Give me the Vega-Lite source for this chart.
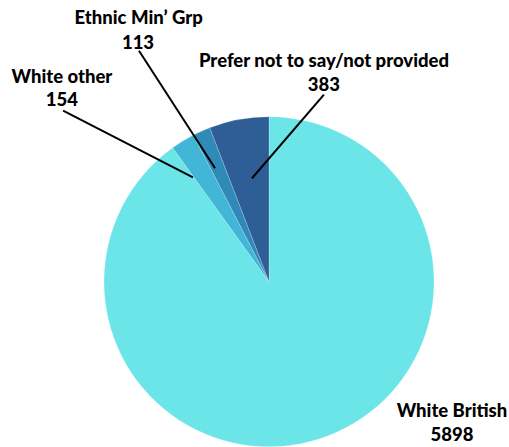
{
  "$schema": "https://vega.github.io/schema/vega-lite/v6.json",
  "width": 509,
  "height": 447,
  "autosize": {"type": "fit", "contains": "padding"},
  "padding": 0,
  "background": "#ffffff",
  "config": {"view": {"stroke": null}},
  "datasets": {
    "slices": [
      {"category": "White British", "count": 5898, "rank": 1, "cx": 0, "cy": 0},
      {"category": "White other", "count": 154, "rank": 2, "cx": 0, "cy": 0},
      {"category": "Ethnic Min’ Grp", "count": 113, "rank": 3, "cx": 0, "cy": 0},
      {"category": "Prefer not to say/not provided", "count": 383, "rank": 4, "cx": 0, "cy": 0}
    ],
    "leaders": [
      {"category": "White other", "u1": -1.248, "v1": 1.042, "u2": -0.461, "v2": 0.636},
      {"category": "Ethnic Min’ Grp", "u1": -0.788, "v1": 1.406, "u2": -0.327, "v2": 0.691},
      {"category": "Prefer not to say/not provided", "u1": 0.333, "v1": 1.139, "u2": -0.103, "v2": 0.630}
    ],
    "labels": [
      {"label": "Ethnic Min’ Grp", "u": -0.79, "v": 1.607},
      {"label": "113", "u": -0.794, "v": 1.455},
      {"label": "White other", "u": -1.255, "v": 1.248},
      {"label": "154", "u": -1.255, "v": 1.109},
      {"label": "Prefer not to say/not provided", "u": 0.333, "v": 1.345},
      {"label": "383", "u": 0.333, "v": 1.2},
      {"label": "White British", "u": 1.109, "v": -0.788},
      {"label": "5898", "u": 1.109, "v": -0.933}
    ]
  },
  "layer": [
    {
      "data": {"name": "slices"},
      "mark": {"type": "arc", "outerRadius": 165, "stroke": "#ffffff", "strokeWidth": 0.4, "strokeOpacity": 0.5},
      "encoding": {
        "x": {"field": "cx", "type": "quantitative", "scale": {"domain": [-1.6303, 1.4545], "nice": false, "zero": false}, "axis": null},
        "y": {"field": "cy", "type": "quantitative", "scale": {"domain": [-0.9939, 1.7152], "nice": false, "zero": false}, "axis": null},
        "theta": {"field": "count", "type": "quantitative", "stack": true},
        "order": {"field": "rank", "type": "quantitative", "sort": "ascending"},
        "color": {
          "field": "category",
          "type": "nominal",
          "scale": {
            "domain": ["White British", "White other", "Ethnic Min’ Grp", "Prefer not to say/not provided"],
            "range": ["#6CE5E8", "#41B6D6", "#2F8AB8", "#2E5E95"]
          },
          "legend": null
        }
      }
    },
    {
      "data": {"name": "leaders"},
      "mark": {"type": "rule", "color": "#000000", "strokeWidth": 2},
      "encoding": {
        "x": {"field": "u1", "type": "quantitative"},
        "y": {"field": "v1", "type": "quantitative"},
        "x2": {"field": "u2"},
        "y2": {"field": "v2"}
      }
    },
    {
      "data": {"name": "labels"},
      "mark": {"type": "text", "font": "Lato", "fontWeight": 900, "fontSize": 18.5, "color": "#000000", "align": "center", "baseline": "middle"},
      "encoding": {
        "x": {"field": "u", "type": "quantitative"},
        "y": {"field": "v", "type": "quantitative"},
        "text": {"field": "label"}
      }
    }
  ]
}
